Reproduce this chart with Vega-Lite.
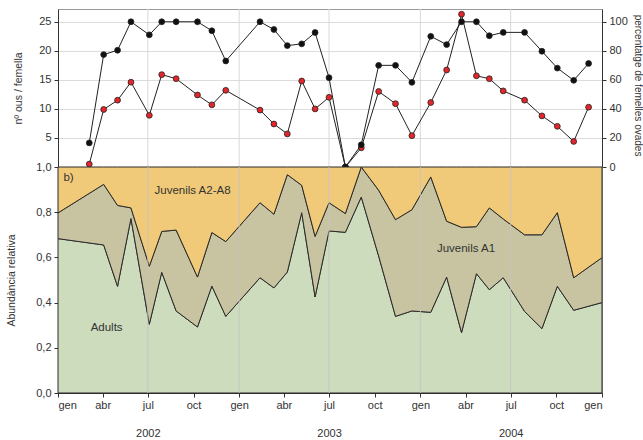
{
  "$schema": "https://vega.github.io/schema/vega-lite/v6.json",
  "background": "white",
  "padding": {"left": 5, "top": 8, "right": 0, "bottom": 0},
  "spacing": 0,
  "bounds": "flush",
  "config": {
    "font": "Liberation Sans",
    "view": {"stroke": "#9a9a9a", "strokeWidth": 1},
    "axis": {
      "labelFont": "Liberation Sans",
      "titleFont": "Liberation Sans",
      "labelFontSize": 11,
      "titleFontSize": 10.5,
      "titleFontWeight": "normal",
      "labelColor": "#333333",
      "titleColor": "#333333",
      "domainColor": "#333333",
      "tickColor": "#333333",
      "grid": false
    },
    "text": {"font": "Liberation Sans", "fontSize": 11.5, "color": "#333333"}
  },
  "datasets": {
    "grid": [
      {"date": "2002-07-01"}, {"date": "2003-01-01"}, {"date": "2003-07-01"},
      {"date": "2004-01-01"}, {"date": "2004-07-01"}
    ],
    "mostreig": [
      {"date": "2002-03-05", "ous": 0.5, "ovades": 16.6},
      {"date": "2002-04-03", "ous": 9.9, "ovades": 77.4},
      {"date": "2002-05-01", "ous": 11.5, "ovades": 80.4},
      {"date": "2002-05-28", "ous": 14.6, "ovades": 100},
      {"date": "2002-07-04", "ous": 8.9, "ovades": 91.0},
      {"date": "2002-07-29", "ous": 15.9, "ovades": 100},
      {"date": "2002-08-27", "ous": 15.2, "ovades": 100},
      {"date": "2002-10-09", "ous": 12.4, "ovades": 100},
      {"date": "2002-11-07", "ous": 10.7, "ovades": 93.8},
      {"date": "2002-12-05", "ous": 13.2, "ovades": 73.0},
      {"date": "2003-02-12", "ous": 9.8, "ovades": 100},
      {"date": "2003-03-12", "ous": 7.4, "ovades": 94.7},
      {"date": "2003-04-08", "ous": 5.7, "ovades": 83.6},
      {"date": "2003-05-07", "ous": 14.8, "ovades": 84.8},
      {"date": "2003-06-03", "ous": 10.0, "ovades": 92.6},
      {"date": "2003-07-01", "ous": 12.0, "ovades": 61.5},
      {"date": "2003-08-03", "ous": 0, "ovades": 0},
      {"date": "2003-09-04", "ous": 3.3, "ovades": 15.3},
      {"date": "2003-10-09", "ous": 13.0, "ovades": 70},
      {"date": "2003-11-12", "ous": 10.9, "ovades": 70},
      {"date": "2003-12-15", "ous": 5.4, "ovades": 58.3},
      {"date": "2004-01-22", "ous": 11.1, "ovades": 90},
      {"date": "2004-02-23", "ous": 16.7, "ovades": 84.3},
      {"date": "2004-03-24", "ous": 26.3, "ovades": 100},
      {"date": "2004-04-23", "ous": 15.7, "ovades": 100},
      {"date": "2004-05-19", "ous": 15.2, "ovades": 90.4},
      {"date": "2004-06-16", "ous": 13.1, "ovades": 92.7},
      {"date": "2004-07-29", "ous": 11.5, "ovades": 92.7},
      {"date": "2004-09-02", "ous": 8.8, "ovades": 79.7},
      {"date": "2004-10-03", "ous": 7.0, "ovades": 68.1},
      {"date": "2004-11-05", "ous": 4.4, "ovades": 59.7},
      {"date": "2004-12-05", "ous": 10.3, "ovades": 71.3}
    ],
    "abundancia": [
      {"date": "2002-01-01", "Adults": 0.683, "JuvA1": 0.114, "JuvA2A8": 0.203},
      {"date": "2002-04-03", "Adults": 0.655, "JuvA1": 0.268, "JuvA2A8": 0.077},
      {"date": "2002-05-01", "Adults": 0.472, "JuvA1": 0.358, "JuvA2A8": 0.170},
      {"date": "2002-05-28", "Adults": 0.772, "JuvA1": 0.047, "JuvA2A8": 0.181},
      {"date": "2002-07-04", "Adults": 0.304, "JuvA1": 0.257, "JuvA2A8": 0.439},
      {"date": "2002-07-29", "Adults": 0.534, "JuvA1": 0.181, "JuvA2A8": 0.285},
      {"date": "2002-08-27", "Adults": 0.363, "JuvA1": 0.358, "JuvA2A8": 0.279},
      {"date": "2002-10-09", "Adults": 0.292, "JuvA1": 0.221, "JuvA2A8": 0.487},
      {"date": "2002-11-07", "Adults": 0.473, "JuvA1": 0.237, "JuvA2A8": 0.290},
      {"date": "2002-12-05", "Adults": 0.339, "JuvA1": 0.331, "JuvA2A8": 0.330},
      {"date": "2003-02-12", "Adults": 0.510, "JuvA1": 0.332, "JuvA2A8": 0.158},
      {"date": "2003-03-12", "Adults": 0.465, "JuvA1": 0.326, "JuvA2A8": 0.209},
      {"date": "2003-04-08", "Adults": 0.535, "JuvA1": 0.431, "JuvA2A8": 0.034},
      {"date": "2003-05-07", "Adults": 0.798, "JuvA1": 0.121, "JuvA2A8": 0.081},
      {"date": "2003-06-03", "Adults": 0.425, "JuvA1": 0.268, "JuvA2A8": 0.307},
      {"date": "2003-07-01", "Adults": 0.717, "JuvA1": 0.125, "JuvA2A8": 0.158},
      {"date": "2003-08-03", "Adults": 0.711, "JuvA1": 0.083, "JuvA2A8": 0.206},
      {"date": "2003-09-04", "Adults": 0.867, "JuvA1": 0.133, "JuvA2A8": 0.000},
      {"date": "2003-10-09", "Adults": 0.606, "JuvA1": 0.291, "JuvA2A8": 0.103},
      {"date": "2003-11-12", "Adults": 0.339, "JuvA1": 0.428, "JuvA2A8": 0.233},
      {"date": "2003-12-15", "Adults": 0.363, "JuvA1": 0.448, "JuvA2A8": 0.189},
      {"date": "2004-01-22", "Adults": 0.357, "JuvA1": 0.599, "JuvA2A8": 0.044},
      {"date": "2004-02-23", "Adults": 0.513, "JuvA1": 0.247, "JuvA2A8": 0.240},
      {"date": "2004-03-24", "Adults": 0.267, "JuvA1": 0.466, "JuvA2A8": 0.267},
      {"date": "2004-04-23", "Adults": 0.528, "JuvA1": 0.208, "JuvA2A8": 0.264},
      {"date": "2004-05-19", "Adults": 0.457, "JuvA1": 0.362, "JuvA2A8": 0.181},
      {"date": "2004-06-16", "Adults": 0.510, "JuvA1": 0.260, "JuvA2A8": 0.230},
      {"date": "2004-07-29", "Adults": 0.361, "JuvA1": 0.339, "JuvA2A8": 0.300},
      {"date": "2004-09-02", "Adults": 0.285, "JuvA1": 0.415, "JuvA2A8": 0.300},
      {"date": "2004-10-03", "Adults": 0.472, "JuvA1": 0.326, "JuvA2A8": 0.202},
      {"date": "2004-11-05", "Adults": 0.366, "JuvA1": 0.144, "JuvA2A8": 0.490},
      {"date": "2005-01-01", "Adults": 0.400, "JuvA1": 0.199, "JuvA2A8": 0.401}
    ]
  },
  "vconcat": [
    {
      "width": 544,
      "height": 158,
      "layer": [
        {
          "data": {"name": "grid"},
          "mark": {"type": "rule", "color": "#d8d8d8", "strokeWidth": 1},
          "encoding": {
            "x": {
              "field": "date", "type": "temporal",
              "scale": {"type": "utc", "domain": [{"year": 2002, "month": 1, "date": 1, "utc": true}, {"year": 2005, "month": 1, "date": 1, "utc": true}]},
              "axis": {
                "orient": "top", "labels": false, "title": null, "domain": false, "tickSize": -4,
                "values": [
                  {"year": 2002, "month": 4, "date": 1, "utc": true},
                  {"year": 2002, "month": 7, "date": 1, "utc": true}, {"year": 2002, "month": 10, "date": 1, "utc": true},
                  {"year": 2003, "month": 1, "date": 1, "utc": true}, {"year": 2003, "month": 4, "date": 1, "utc": true},
                  {"year": 2003, "month": 7, "date": 1, "utc": true}, {"year": 2003, "month": 10, "date": 1, "utc": true},
                  {"year": 2004, "month": 1, "date": 1, "utc": true}, {"year": 2004, "month": 4, "date": 1, "utc": true},
                  {"year": 2004, "month": 7, "date": 1, "utc": true}, {"year": 2004, "month": 10, "date": 1, "utc": true}
                ]
              }
            }
          }
        },
        {
          "data": {"name": "mostreig"},
          "encoding": {
            "x": {"field": "date", "type": "temporal", "axis": null},
            "y": {
              "field": "ous", "type": "quantitative",
              "scale": {"domain": [0, 27.2], "nice": false, "zero": true},
              "axis": {
                "orient": "left", "values": [5, 10, 15, 20, 25], "grid": true, "gridColor": "#dcdcdc",
                "tickSize": 4, "labelPadding": 3,
                "title": "nº ous / femella", "titleX": -34.5, "titleY": 79
              }
            }
          },
          "layer": [
            {"mark": {"type": "line", "color": "#222222", "strokeWidth": 1}},
            {"mark": {"type": "point", "filled": true, "fill": "#e3262b", "stroke": "#222222", "strokeWidth": 0.8, "size": 34, "opacity": 1}},
            {
              "data": {"values": [{}]},
              "mark": {"type": "text", "align": "left", "baseline": "middle", "text": "a)"},
              "encoding": {
                "x": {"datum": {"year": 2002, "month": 1, "date": 12, "utc": true}, "type": "temporal", "axis": null},
                "y": {"datum": 25.7, "type": "quantitative"}
              }
            },
            {
              "data": {"values": [{}]},
              "mark": {"type": "text", "align": "left", "baseline": "middle", "text": "femelles ovades"},
              "encoding": {
                "x": {"datum": {"year": 2003, "month": 6, "date": 18, "utc": true}, "type": "temporal", "axis": null},
                "y": {"datum": 23.1, "type": "quantitative"}
              }
            },
            {
              "data": {"values": [{}]},
              "mark": {"type": "text", "align": "left", "baseline": "middle", "text": "nº ous", "color": "#e3262b"},
              "encoding": {
                "x": {"datum": {"year": 2002, "month": 7, "date": 27, "utc": true}, "type": "temporal", "axis": null},
                "y": {"datum": 7.8, "type": "quantitative"}
              }
            }
          ]
        },
        {
          "data": {"name": "mostreig"},
          "encoding": {
            "x": {"field": "date", "type": "temporal", "axis": null},
            "y": {
              "field": "ovades", "type": "quantitative",
              "scale": {"domain": [0, 108.8], "nice": false},
              "axis": {
                "orient": "right", "values": [0, 20, 40, 60, 80, 100],
                "tickSize": 4, "labelPadding": 3, "titleFontSize": 10,
                "title": "percentatge de femelles ovades", "titleX": 30.5, "titleY": 76
              }
            }
          },
          "layer": [
            {"mark": {"type": "line", "color": "#222222", "strokeWidth": 1}},
            {"mark": {"type": "point", "filled": true, "fill": "#111111", "stroke": "#222222", "strokeWidth": 0.8, "size": 34, "opacity": 1}}
          ]
        }
      ],
      "resolve": {"scale": {"y": "independent"}}
    },
    {
      "width": 544,
      "height": 226,
      "layer": [
        {
          "data": {"name": "abundancia"},
          "transform": [{"fold": ["Adults", "JuvA1", "JuvA2A8"], "as": ["grup", "valor"]}],
          "mark": {"type": "area", "stroke": "#2a2a2a", "strokeWidth": 1, "opacity": 1, "interpolate": "linear"},
          "encoding": {
            "x": {
              "field": "date", "type": "temporal",
              "scale": {"type": "utc", "domain": [{"year": 2002, "month": 1, "date": 1, "utc": true}, {"year": 2005, "month": 1, "date": 1, "utc": true}]},
              "axis": {
                "orient": "bottom", "title": null, "tickSize": 4, "labelPadding": 2,
                "labelExpr": "['gen','feb','mar','abr','mai','jun','jul','ago','set','oct','nov','des'][utcmonth(datum.value)]",
                "values": [
                  {"year": 2002, "month": 1, "date": 1, "utc": true}, {"year": 2002, "month": 4, "date": 1, "utc": true},
                  {"year": 2002, "month": 7, "date": 1, "utc": true}, {"year": 2002, "month": 10, "date": 1, "utc": true},
                  {"year": 2003, "month": 1, "date": 1, "utc": true}, {"year": 2003, "month": 4, "date": 1, "utc": true},
                  {"year": 2003, "month": 7, "date": 1, "utc": true}, {"year": 2003, "month": 10, "date": 1, "utc": true},
                  {"year": 2004, "month": 1, "date": 1, "utc": true}, {"year": 2004, "month": 4, "date": 1, "utc": true},
                  {"year": 2004, "month": 7, "date": 1, "utc": true}, {"year": 2004, "month": 10, "date": 1, "utc": true},
                  {"year": 2005, "month": 1, "date": 1, "utc": true}
                ]
              }
            },
            "y": {
              "field": "valor", "type": "quantitative", "stack": "zero",
              "scale": {"domain": [0, 1], "nice": false},
              "axis": {
                "orient": "left", "values": [0, 0.2, 0.4, 0.6, 0.8, 1.0],
                "labelExpr": "replace(format(datum.value, '.1f'), '.', ',')",
                "tickSize": 4, "labelPadding": 3,
                "title": "Abundància relativa", "titleX": -42, "titleY": 113
              }
            },
            "color": {
              "field": "grup", "type": "nominal",
              "scale": {"domain": ["Adults", "JuvA1", "JuvA2A8"], "range": ["#cddcbd", "#c8c3a0", "#f0ca78"]},
              "legend": null
            },
            "order": {"field": "grup", "sort": "ascending"}
          }
        },
        {
          "data": {"name": "grid"},
          "mark": {"type": "rule", "color": "#c4c4c4", "strokeWidth": 1, "opacity": 0.9},
          "encoding": {
            "x": {
              "field": "date", "type": "temporal",
              "axis": {
                "orient": "bottom", "title": null, "ticks": false, "domain": false, "tickSize": 0, "labelPadding": 34,
                "labelExpr": "utcFormat(datum.value, '%Y')",
                "values": [
                  {"year": 2002, "month": 7, "date": 1, "utc": true},
                  {"year": 2003, "month": 7, "date": 1, "utc": true},
                  {"year": 2004, "month": 7, "date": 1, "utc": true}
                ]
              }
            }
          }
        },
        {
          "data": {"values": [{}]},
          "mark": {"type": "text", "align": "left", "baseline": "middle", "text": "b)"},
          "encoding": {
            "x": {"datum": {"year": 2002, "month": 1, "date": 12, "utc": true}, "type": "temporal", "axis": null},
            "y": {"datum": 0.95, "type": "quantitative"}
          }
        },
        {
          "data": {"values": [{}]},
          "mark": {"type": "text", "align": "center", "baseline": "middle", "text": "Juvenils A2-A8"},
          "encoding": {
            "x": {"datum": {"year": 2002, "month": 9, "date": 29, "utc": true}, "type": "temporal", "axis": null},
            "y": {"datum": 0.894, "type": "quantitative"}
          }
        },
        {
          "data": {"values": [{}]},
          "mark": {"type": "text", "align": "center", "baseline": "middle", "text": "Juvenils A1"},
          "encoding": {
            "x": {"datum": {"year": 2004, "month": 4, "date": 2, "utc": true}, "type": "temporal", "axis": null},
            "y": {"datum": 0.639, "type": "quantitative"}
          }
        },
        {
          "data": {"values": [{}]},
          "mark": {"type": "text", "align": "center", "baseline": "middle", "text": "Adults"},
          "encoding": {
            "x": {"datum": {"year": 2002, "month": 4, "date": 9, "utc": true}, "type": "temporal", "axis": null},
            "y": {"datum": 0.288, "type": "quantitative"}
          }
        }
      ],
      "resolve": {"axis": {"x": "independent"}}
    }
  ]
}
